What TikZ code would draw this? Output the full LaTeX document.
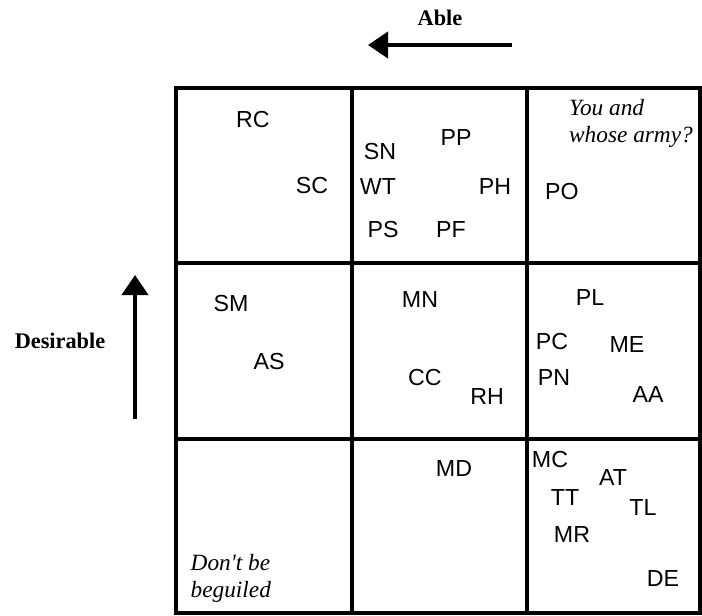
\documentclass[tikz,border=0pt]{standalone}
\usepackage{fontspec}
\setmainfont{Liberation Serif}
\newfontfamily\arialfont{Liberation Sans}
\usetikzlibrary{arrows.meta}
\begin{document}
\begin{tikzpicture}[x=1pt,y=-1pt,
  grid/.style={line width=4.6pt, line cap=rect},
  lab/.style={inner sep=0pt, font=\arialfont\fontsize{23.2}{27}\selectfont},
  ital/.style={inner sep=0pt, anchor=base west, font=\itshape\fontsize{23.3}{27}\selectfont},
  axis/.style={inner sep=0pt, font=\bfseries\fontsize{22.3}{26}\selectfont},
  bigarrow/.style={line width=4pt, -{Triangle[length=20pt,width=26pt]}}]
\useasboundingbox (0,0) rectangle (702,616);
% grid
\draw[grid] (176,88) rectangle (700,613);
\draw[grid] (352,88) -- (352,613);
\draw[grid] (527,88) -- (527,613);
\draw[grid] (176,263) -- (700,263);
\draw[grid] (176,439) -- (700,439);
% axes
\node[axis] (able) at (440,18) {Able};
\coordinate (ableS) at (512,45);
\coordinate (ableE) at (368,45);
\draw[bigarrow] (ableS) -- (ableE);
\node[axis] (des) at (60,341) {Desirable};
\coordinate (desS) at (135,419);
\coordinate (desE) at (135,275);
\draw[bigarrow] (desS) -- (desE);
% row 1
\node[lab] (RC) at (253,120) {RC};
\node[lab] (SC) at (312,186) {SC};
\node[lab] (SN) at (380,152) {SN};
\node[lab] (PP) at (456,138) {PP};
\node[lab] (WT) at (378,187) {WT};
\node[lab] (PH) at (495,187) {PH};
\node[lab] (PS) at (383,230) {PS};
\node[lab] (PF) at (451,230) {PF};
\node[ital] (you1) at (569,115) {You and};
\node[ital] (you2) at (569,142.5) {whose army?};
\node[lab] (PO) at (562,192) {PO};
% row 2
\node[lab] (SM) at (231,304) {SM};
\node[lab] (AS) at (269,362) {AS};
\node[lab] (MN) at (420,300) {MN};
\node[lab] (CC) at (425,378) {CC};
\node[lab] (RH) at (487,397) {RH};
\node[lab] (PL) at (590,298) {PL};
\node[lab] (PC) at (552,342) {PC};
\node[lab] (ME) at (627,345) {ME};
\node[lab] (PN) at (554,378) {PN};
\node[lab] (AA) at (648,395) {AA};
% row 3
\node[ital] (dont1) at (190.5,570.5) {Don\textquotesingle t be};
\node[ital] (dont2) at (190.5,597) {beguiled};
\node[lab] (MD) at (454,469) {MD};
\node[lab] (MC) at (550,460) {MC};
\node[lab] (AT) at (613,478) {AT};
\node[lab] (TT) at (565,498) {TT};
\node[lab] (TL) at (643,508) {TL};
\node[lab] (MR) at (572,535) {MR};
\node[lab] (DE) at (663,579) {DE};
\end{tikzpicture}
\end{document}
